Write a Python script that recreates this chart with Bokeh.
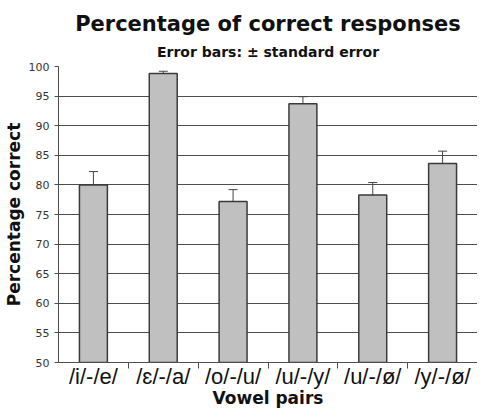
from bokeh.plotting import figure
from bokeh.models import ColumnDataSource, Whisker, FixedTicker, Title, Range1d
from bokeh.embed import file_html
from bokeh.resources import INLINE

categories = ["/i/-/e/", "/ɛ/-/a/", "/o/-/u/", "/u/-/y/", "/u/-/ø/", "/y/-/ø/"]
percent_correct = [80.0, 98.8, 77.2, 93.7, 78.3, 83.6]
std_error = [2.25, 0.4, 2.0, 1.2, 2.1, 2.1]
y_ticks = [50, 55, 60, 65, 70, 75, 80, 85, 90, 95, 100]

xs = [i + 0.5 for i in range(len(categories))]
source = ColumnDataSource(dict(
    x=xs,
    top=percent_correct,
    upper=[v + e for v, e in zip(percent_correct, std_error)],
    lower=[v - e for v, e in zip(percent_correct, std_error)],
))

p = figure(width=477, height=410, output_backend="svg", toolbar_location=None,
           x_range=Range1d(0, len(categories)), y_range=Range1d(50, 100),
           min_border_left=50, min_border_right=0, min_border_top=0, min_border_bottom=0)
p.outline_line_color = None
p.background_fill_color = "white"

p.add_layout(Title(text="Error bars: ± standard error", align="center",
                   text_font="DejaVu Sans", text_font_size="14px", text_font_style="bold",
                   text_color="#111111", standoff=13), "above")
p.add_layout(Title(text="Percentage of correct responses", align="center",
                   text_font="DejaVu Sans", text_font_size="21px", text_font_style="bold",
                   text_color="#111111", standoff=0), "above")
p.add_layout(Title(text=" ", text_font_size="7px", standoff=0), "above")

p.vbar(x="x", top="top", bottom=50, width=0.4, source=source,
       fill_color="#c0c0c0", line_color="#3a3a3a", line_width=1.5)

w = Whisker(source=source, base="x", upper="upper", lower="lower",
            line_color="#444444", line_width=1)
w.upper_head.size = 9
w.lower_head.size = 9
w.upper_head.line_color = "#444444"
w.lower_head.line_color = "#444444"
p.add_layout(w)

# grid
p.xgrid.visible = False
p.ygrid.ticker = FixedTicker(ticks=y_ticks)
p.ygrid.grid_line_color = "#4d4d4d"
p.ygrid.grid_line_width = 1

# y axis
p.yaxis.ticker = FixedTicker(ticks=y_ticks)
p.yaxis.axis_label = "Percentage correct"
p.yaxis.axis_label_text_font = "DejaVu Sans"
p.yaxis.axis_label_text_font_size = "17px"
p.yaxis.axis_label_text_font_style = "bold"
p.yaxis.axis_label_text_color = "#111111"
p.yaxis.axis_label_standoff = 2
p.yaxis.major_label_text_font = "DejaVu Sans"
p.yaxis.major_label_text_font_size = "11px"
p.yaxis.major_label_text_color = "#333333"
p.yaxis.major_label_standoff = 5
p.yaxis.major_tick_out = 4
p.yaxis.major_tick_in = 0
p.yaxis.minor_tick_out = 0
p.yaxis.axis_line_color = "#4d4d4d"
p.yaxis.major_tick_line_color = "#4d4d4d"

# x axis
p.xaxis.ticker = FixedTicker(ticks=xs, minor_ticks=list(range(1, len(categories))))
p.xaxis.major_label_overrides = {x: c for x, c in zip(xs, categories)}
p.xaxis.major_tick_out = 0
p.xaxis.major_tick_in = 0
p.xaxis.minor_tick_out = 6
p.xaxis.minor_tick_in = 0
p.xaxis.minor_tick_line_color = "#4d4d4d"
p.xaxis.axis_line_color = "#4d4d4d"
p.xaxis.major_label_text_font = "Liberation Sans"
p.xaxis.major_label_text_font_size = "22px"
p.xaxis.major_label_text_color = "#111111"
p.xaxis.major_label_standoff = -5
p.xaxis.axis_label = "Vowel pairs"
p.xaxis.axis_label_text_font = "DejaVu Sans"
p.xaxis.axis_label_text_font_size = "17px"
p.xaxis.axis_label_text_font_style = "bold"
p.xaxis.axis_label_text_color = "#111111"
p.xaxis.axis_label_standoff = -4

open("out.html", "w").write(file_html(p, INLINE))
